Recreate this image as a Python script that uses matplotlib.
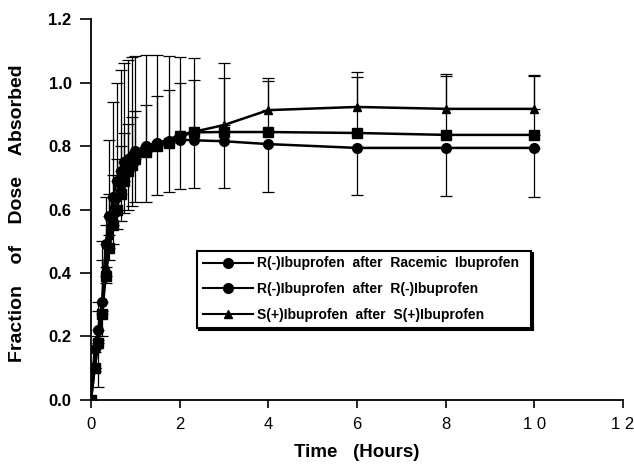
import matplotlib
matplotlib.use('Agg')
import matplotlib.pyplot as plt
from matplotlib.lines import Line2D

plt.rcParams['font.family'] = ['Liberation Sans', 'DejaVu Sans']

# sampling times (hours)
time_h = [0, 0.083, 0.167, 0.25, 0.333, 0.417, 0.5, 0.583, 0.667, 0.75, 0.833, 0.917,
          1.0, 1.25, 1.5, 1.75, 2.0, 2.33, 3, 4, 6, 8, 10]

# R(-)ibuprofen after racemic ibuprofen (circles, -SD)
r_rac = [0, 0.16, 0.22, 0.31, 0.49, 0.58, 0.64, 0.69, 0.72, 0.75, 0.76, 0.77,
         0.785, 0.80, 0.81, 0.815, 0.82, 0.818, 0.815, 0.806, 0.794, 0.794, 0.794]
r_rac_sd = [0, 0.07, 0.18, 0.11, 0.12, 0.14, 0.15, 0.15, 0.155, 0.16, 0.16, 0.16,
            0.16, 0.175, 0.165, 0.16, 0.155, 0.151, 0.148, 0.151, 0.148, 0.151, 0.155]

# R(-)ibuprofen after R(-)ibuprofen (squares, +SD)
r_r = [0, 0.10, 0.18, 0.27, 0.39, 0.48, 0.55, 0.60, 0.65, 0.69, 0.72, 0.74,
       0.76, 0.78, 0.80, 0.81, 0.83, 0.843, 0.844, 0.844, 0.841, 0.835, 0.835]
r_r_sd = [0, 0.05, 0.10, 0.17, 0.16, 0.17, 0.16, 0.16, 0.15, 0.15, 0.15, 0.15,
          0.15, 0.15, 0.157, 0.166, 0.168, 0.165, 0.17, 0.16, 0.176, 0.185, 0.185]

# S(+)ibuprofen after S(+)ibuprofen (triangles, +SD)
s_s = [0, 0.10, 0.19, 0.28, 0.42, 0.52, 0.58, 0.64, 0.68, 0.72, 0.74, 0.76,
       0.77, 0.79, 0.81, 0.82, 0.835, 0.845, 0.866, 0.913, 0.923, 0.917, 0.917]
s_s_sd = [0, 0.10, 0.12, 0.22, 0.22, 0.30, 0.36, 0.36, 0.36, 0.34, 0.33, 0.32,
          0.315, 0.297, 0.277, 0.265, 0.245, 0.232, 0.195, 0.10, 0.11, 0.11, 0.107]

labels = ['R(-)Ibuprofen  after  Racemic  Ibuprofen',
          'R(-)Ibuprofen  after  R(-)Ibuprofen',
          'S(+)Ibuprofen  after  S(+)Ibuprofen']

fig = plt.figure(figsize=(6.34, 4.68), dpi=100)
ax = fig.add_axes([0.1435, 0.1453, 0.839, 0.8141])

zeros = [0] * len(time_h)

# error bars (one direction each)
ax.errorbar(time_h, r_rac, yerr=[r_rac_sd, zeros], fmt='none', ecolor='black',
            elinewidth=0.9, capsize=4.5, capthick=0.9)
ax.errorbar(time_h, r_r, yerr=[zeros, r_r_sd], fmt='none', ecolor='black',
            elinewidth=0.9, capsize=4.5, capthick=0.9)
ax.errorbar(time_h, s_s, yerr=[zeros, s_s_sd], fmt='none', ecolor='black',
            elinewidth=0.9, capsize=4.5, capthick=0.9)

ax.plot(time_h, r_rac, color='black', lw=1.8, marker='o', ms=7)
ax.plot(time_h, r_r, color='black', lw=1.8, marker='s', ms=6.5)
ax.plot(time_h, s_s, color='black', lw=1.8, marker='^', ms=6)

ax.set_xlim(0, 12)
ax.set_ylim(0, 1.2)
ax.set_xticks(range(0, 13, 2))
ax.set_yticks([0, 0.2, 0.4, 0.6, 0.8, 1.0, 1.2])
ax.set_xticklabels(['0', '2', '4', '6', '8', '1 0', '1 2'], fontsize=12)
ax.set_yticklabels(['0.0', '0.2', '0.4', '0.6', '0.8', '1.0', '1.2'],
                   fontsize=12, fontweight='bold')

for s in ['top', 'right']:
    ax.spines[s].set_visible(False)
for s in ['left', 'bottom']:
    ax.spines[s].set_linewidth(1.3)
ax.tick_params(axis='x', direction='out', length=6, width=1.2, pad=6)
ax.tick_params(axis='y', direction='out', length=8, width=1.2, pad=6)

ax.set_xlabel('Time   (Hours)', fontsize=13.5, fontweight='bold')
ax.xaxis.set_label_coords(0.5, -0.115)
ax.set_ylabel('Fraction    of    Dose    Absorbed', fontsize=14, fontweight='bold')
ax.yaxis.set_label_coords(-0.122, 0.49)

handles = [Line2D([], [], color='black', lw=1.5, marker='o', ms=7),
           Line2D([], [], color='black', lw=1.5, marker='o', ms=7),
           Line2D([], [], color='black', lw=1.5, marker='^', ms=5.5)]
leg = ax.legend(handles, labels, loc='lower left', bbox_to_anchor=(0.2, 0.19, 0.627, 0.21),
                mode='expand', fancybox=False, frameon=True,
                shadow={'ox': 1.5, 'oy': -1.5, 'color': 'black', 'alpha': 1},
                prop={'weight': 'bold', 'size': 10}, handlelength=3.6,
                handletextpad=0.3, borderaxespad=0, labelspacing=0.85)
leg.get_frame().set_edgecolor('black')
leg.get_frame().set_linewidth(1.5)

fig.savefig('out.png', dpi=100)
